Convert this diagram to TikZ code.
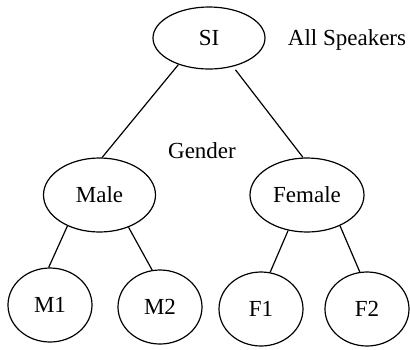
\documentclass[tikz,border=0pt]{standalone}
\usepackage{fontspec}
\setmainfont{Liberation Serif}
\usetikzlibrary{shapes.geometric}
\begin{document}
\begin{tikzpicture}[x=1pt,y=-1pt,
  ell/.style={draw,ellipse,line width=1.2pt,inner sep=0pt,font=\fontsize{23}{27}\selectfont},
  big/.style={ell,minimum width=112pt,minimum height=74pt},
  small/.style={ell,minimum width=84pt,minimum height=74pt},
  lbl/.style={font=\fontsize{23}{27}\selectfont,inner sep=0pt},
  edge/.style={line width=1.2pt}]
\useasboundingbox (0,0) rectangle (410,349);
\node[ell,minimum width=112pt,minimum height=62pt] (SI) at (209,38) {SI};
\node[lbl] (all) at (347,40) {All Speakers};
\node[lbl] (gender) at (202,151) {Gender};
\node[big] (male) at (99.5,195) {Male};
\node[big,minimum width=114pt] (female) at (307,195) {Female};
\node[small] (M1) at (50,305) {M1};
\node[small] (M2) at (160,307) {M2};
\node[small] (F1) at (261,309) {F1};
\node[small] (F2) at (367,309) {F2};
\draw[edge] (SI.221) -- (male.86);
\draw[edge,shorten <=4pt] (SI.310) -- (female.96);
\draw[edge] (male.224) -- (M1.92);
\draw[edge] (male.312) -- (M2.102);
\draw[edge] (female.242) -- (F1.76);
\draw[edge] (female.317) -- (F2.101);
\end{tikzpicture}
\end{document}
